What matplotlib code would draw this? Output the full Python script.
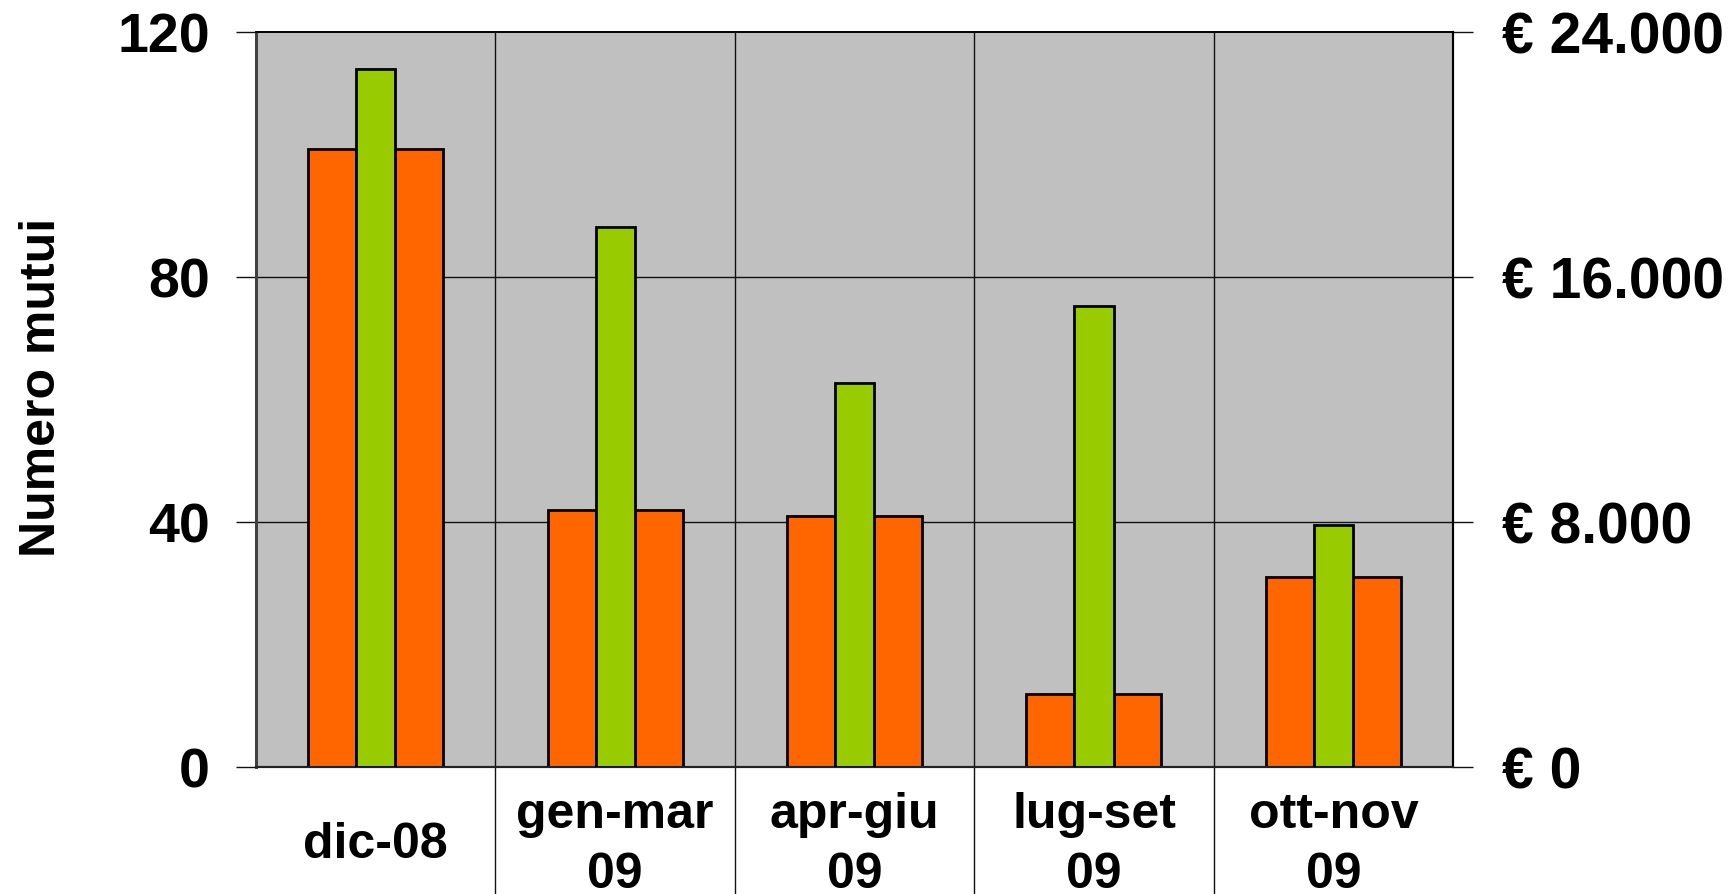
import numpy as np
import matplotlib
matplotlib.use("Agg")
import matplotlib.pyplot as plt
from matplotlib.ticker import FuncFormatter

# dati
periodi = ["dic-08", "gen-mar\n09", "apr-giu\n09", "lug-set\n09", "ott-nov\n09"]
numero_mutui = [101, 42, 41, 12, 31]
importo_euro = [22800, 17640, 12560, 15060, 7920]
tick_sx = [0, 40, 80, 120]
tick_dx = [0, 8000, 16000, 24000]

ARANCIO = "#FF6600"
VERDE = "#99CC00"
GRIGIO = "#C0C0C0"

plt.rcParams["font.family"] = ["Liberation Sans", "DejaVu Sans"]
plt.rcParams["font.weight"] = "bold"

fig = plt.figure(figsize=(17.35, 8.94), dpi=100)
ax = fig.add_axes([0.1476, 0.1417, 0.6899, 0.8221])
ax2 = ax.twinx()

x = np.arange(len(periodi))
w_or = 0.2
w_ve = 0.164
off = w_ve / 2 + w_or / 2

ax.set_facecolor(GRIGIO)
ax.set_axisbelow(True)
ax.bar(x - off, numero_mutui, w_or, color=ARANCIO, edgecolor="black", linewidth=2, zorder=3)
ax.bar(x + off, numero_mutui, w_or, color=ARANCIO, edgecolor="black", linewidth=2, zorder=3)
ax2.bar(x, importo_euro, w_ve, color=VERDE, edgecolor="black", linewidth=2, zorder=3)

ax.set_xlim(-0.5, len(periodi) - 0.5)
ax.set_ylim(0, 120)
ax2.set_ylim(0, 24000)
ax.set_yticks(tick_sx)
ax2.set_yticks(tick_dx)
ax2.yaxis.set_major_formatter(
    FuncFormatter(lambda v, p: "€ " + f"{int(v):,}".replace(",", ".")))

# griglia orizzontale
for v in tick_sx[1:-1]:
    ax.axhline(v, color="#111111", linewidth=1, zorder=1)

# separatori tra periodi (scendono sotto l'asse)
for s in x[:-1] + 0.5:
    ax.axvline(s, ymin=-0.18, ymax=1, color="#111111", linewidth=1,
               clip_on=False, zorder=1)

ax.set_xticks([])
for xi, lab in zip(x, periodi):
    ax.text(xi, -0.106, lab, transform=ax.get_xaxis_transform(),
            ha="center", va="center", fontsize=36, fontweight="bold",
            linespacing=1.38)

ax.tick_params(axis="y", direction="out", length=14.4, width=1,
               pad=19, labelsize=40, color="#111111")
ax2.tick_params(axis="y", direction="out", length=14.4, width=1,
                pad=21, labelsize=41, color="#111111")
for t in ax.get_yticklabels() + ax2.get_yticklabels():
    t.set_fontweight("bold")

for a in (ax, ax2):
    a.spines["left"].set_color("#404040")
    a.spines["left"].set_linewidth(2)
    a.spines["bottom"].set_color("#222222")
    a.spines["bottom"].set_linewidth(1.5)
    a.spines["top"].set_color("black")
    a.spines["top"].set_linewidth(1.2)
    a.spines["right"].set_color("black")
    a.spines["right"].set_linewidth(1.5)

fig.text(42 / 1735, 1 - 387 / 894, "Numero mutui", rotation=90,
         ha="center", va="center", fontsize=36, fontweight="bold")

fig.savefig("out.png", dpi=100)
